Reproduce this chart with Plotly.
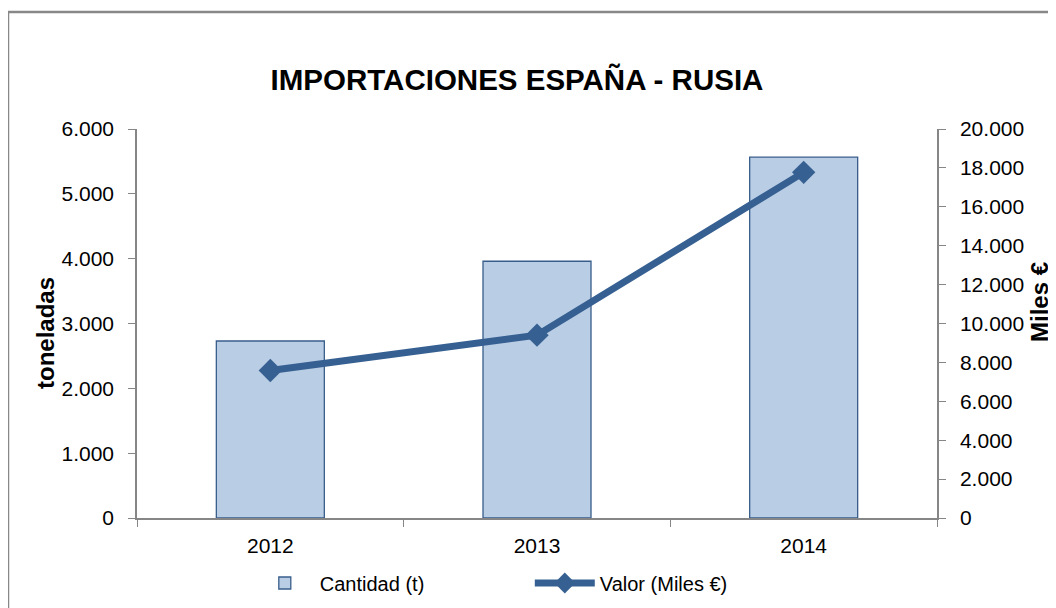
import plotly.graph_objects as go

years = ["2012", "2013", "2014"]
cantidad = [2730, 3960, 5565]
valor = [7580, 9400, 17770]
y1_ticks = [0, 1000, 2000, 3000, 4000, 5000, 6000]
y2_ticks = [0, 2000, 4000, 6000, 8000, 10000, 12000, 14000, 16000, 18000, 20000]

FONT = "Liberation Sans, Arial, sans-serif"
AX = "#868686"
W, H = 1048, 600  # page body has an 8px margin

fig = go.Figure()
fig.add_trace(go.Bar(
    x=years, y=cantidad, name="Cantidad (t)", width=0.405,
    marker=dict(color="#B9CDE5", line=dict(color="#385D8A", width=1.3)),
    yaxis="y",
))
fig.add_trace(go.Scatter(
    x=years, y=valor, name="Valor (Miles €)", mode="lines+markers",
    line=dict(color="#376092", width=7),
    marker=dict(symbol="diamond", size=18, color="#376092"),
    yaxis="y2",
))

L, R, T, B = 129, W - 929, 121, H - 510
pw, ph = W - L - R, H - T - B


def px(x):
    return (x - L) / pw


def py(y):
    return (H - B - y) / ph


fig.update_layout(
    width=W, height=H,
    margin=dict(l=L, r=R, t=T, b=B, autoexpand=False),
    paper_bgcolor="white", plot_bgcolor="white",
    separators=",.",
    font=dict(family=FONT, size=21, color="#000"),
    title=dict(text="<b>IMPORTACIONES ESPAÑA - RUSIA</b>", x=509 / W, xanchor="center",
               y=1 - 72 / H, yanchor="middle", font=dict(size=29.5, family=FONT)),
    showlegend=True,
    legend=dict(orientation="h", x=0.141, xanchor="left", y=py(575), yanchor="middle",
                font=dict(size=20, family=FONT), entrywidth=205, itemwidth=60, traceorder="normal"),
    xaxis=dict(type="category", showline=True, linecolor=AX, linewidth=1.5,
               ticks="outside", tickson="boundaries", ticklen=7, tickcolor=AX,
               ticklabelstandoff=8, tickfont=dict(size=21), showgrid=False, automargin=False),
    yaxis=dict(range=[0, 6000], tickvals=y1_ticks, tickformat=",.0f", showline=True,
               linecolor=AX, linewidth=1.5, ticks="outside", ticklen=7, tickcolor=AX,
               ticklabelstandoff=10, showgrid=False, zeroline=False, tickfont=dict(size=21),
               automargin=False),
    yaxis2=dict(range=[0, 20000], tickvals=y2_ticks, tickformat=",.0f", overlaying="y",
                side="right", showline=True, linecolor=AX, linewidth=1.5, ticks="outside",
                ticklen=7, tickcolor=AX, ticklabelstandoff=10, showgrid=False, zeroline=False,
                tickfont=dict(size=21), automargin=False),
    annotations=[
        dict(text="<b>toneladas</b>", xref="paper", yref="paper", x=px(37.5), y=py(325.5),
             xanchor="center", yanchor="middle", textangle=-90, showarrow=False,
             font=dict(size=24, family=FONT)),
        dict(text="<b>Miles €</b>", xref="paper", yref="paper", x=px(1031), y=py(294),
             xanchor="center", yanchor="middle", textangle=-90, showarrow=False,
             font=dict(size=24, family=FONT)),
    ],
    shapes=[dict(type="rect", xref="paper", yref="paper",
                 x0=px(0), x1=px(W + 30),
                 y0=py(H + 30), y1=py(4),
                 line=dict(color="#888888", width=2.5), fillcolor="rgba(0,0,0,0)", layer="below")],
)

fig.write_html("out.html")
